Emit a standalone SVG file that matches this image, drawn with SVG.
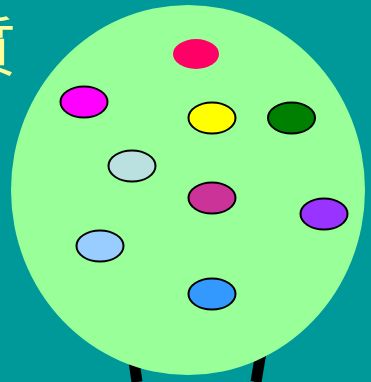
<svg xmlns="http://www.w3.org/2000/svg" width="371" height="382" viewBox="0 0 371 382">
<style>
.ball{stroke:#000;stroke-width:2}
.trunk{stroke:#000;stroke-width:11;stroke-linecap:butt}
.title{font-family:"Noto Sans CJK TC","Noto Sans CJK SC",serif;font-size:64px;fill:#FFFF99}
</style>
<rect width="371" height="382" fill="#009999"/>
<g id="trunk">
<line class="trunk" x1="131" y1="340" x2="137" y2="382"/>
<line class="trunk" x1="263" y1="340" x2="256" y2="382"/>
</g>
<g id="crown"><ellipse cx="188" cy="190" rx="177" ry="185" fill="#99FF99"/></g>
<text class="title" x="-48" y="70">質</text>
<g id="connectors"></g>
<g id="n1"><ellipse cx="196" cy="54" rx="23" ry="15" fill="#FF0066"/></g>
<g id="n2"><ellipse class="ball" cx="84" cy="102" rx="23.5" ry="15.5" fill="#FF00FF"/></g>
<g id="n3"><ellipse class="ball" cx="212" cy="118" rx="23.5" ry="15.5" fill="#FFFF00"/></g>
<g id="n4"><ellipse class="ball" cx="291.5" cy="118" rx="23.5" ry="15.5" fill="#008000"/></g>
<g id="n5"><ellipse class="ball" cx="132" cy="166" rx="23.5" ry="15.5" fill="#BBE0E0"/></g>
<g id="n6"><ellipse class="ball" cx="212" cy="198" rx="23.5" ry="15.5" fill="#CC3399"/></g>
<g id="n7"><ellipse class="ball" cx="324" cy="214" rx="23.5" ry="15.5" fill="#9933FF"/></g>
<g id="n8"><ellipse class="ball" cx="100" cy="246" rx="23.5" ry="15.5" fill="#99CCFF"/></g>
<g id="n9"><ellipse class="ball" cx="212" cy="294" rx="23.5" ry="15.5" fill="#3399FF"/></g>
</svg>
